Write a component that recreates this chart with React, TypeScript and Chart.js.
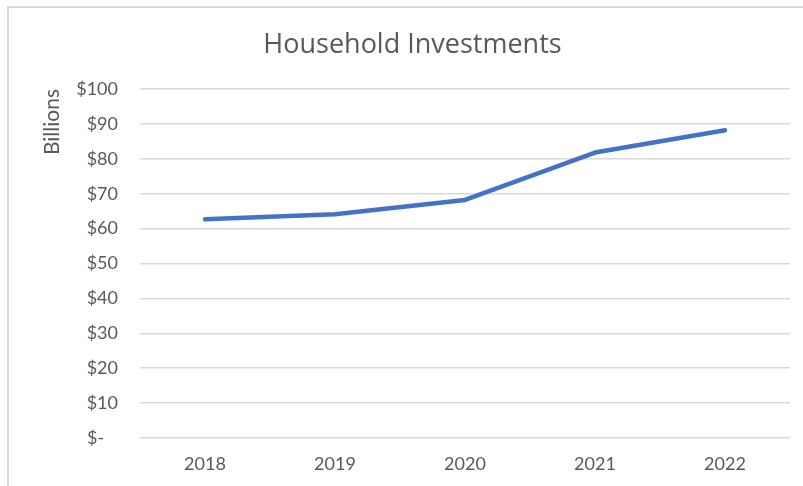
import React, { useEffect, useRef } from "react";
import { Chart, registerables } from "chart.js";

Chart.register(...registerables);

const years: string[] = ["2018", "2019", "2020", "2021", "2022"];
const investments: number[] = [62.7, 64.1, 68.2, 81.8, 88.2];
const chartTitle = "Household Investments";
const yAxisTitle = "Billions";

const FONT = "Lato, 'Open Sans', sans-serif";
const TITLE_FONT = "'Open Sans', Lato, sans-serif";
const TEXT = "#595959";

const frame = {
  id: "frame",
  beforeDraw(chart: any) {
    const ctx = chart.ctx;
    ctx.save();
    ctx.fillStyle = "#ffffff";
    ctx.fillRect(0, 0, chart.width, chart.height);
    ctx.strokeStyle = "#d9d9d9";
    ctx.lineWidth = 2;
    ctx.beginPath();
    ctx.moveTo(8, chart.height);
    ctx.lineTo(8, 7);
    ctx.lineTo(chart.width, 7);
    ctx.stroke();
    ctx.restore();
  },
};

export default function App() {
  const ref = useRef<HTMLCanvasElement>(null);
  useEffect(() => {
    const chart = new Chart(ref.current!, {
      type: "line",
      data: {
        labels: years,
        datasets: [
          {
            label: "Household Investments",
            data: investments,
            borderColor: "#4472C4",
            backgroundColor: "#4472C4",
            borderWidth: 4.5,
            pointRadius: 0,
            tension: 0,
            borderCapStyle: "round",
            borderJoinStyle: "round",
          },
        ],
      },
      options: {
        animation: false,
        responsive: false,
        devicePixelRatio: 1,
        layout: { padding: { left: 35, right: 13, top: 0, bottom: 0 } },
        plugins: {
          legend: { display: false },
          tooltip: { enabled: false },
          title: {
            display: true,
            text: chartTitle,
            color: TEXT,
            font: { family: TITLE_FONT, size: 27, weight: "normal", lineHeight: 1.2 },
            padding: { top: 29, bottom: 27.6 },
          },
        },
        scales: {
          x: {
            offset: true,
            grid: { display: false, drawTicks: false },
            border: { display: false },
            ticks: {
              color: TEXT,
              font: { family: FONT, size: 18 },
              padding: 15,
              maxRotation: 0,
            },
            afterFit(scale: any) {
              scale.height = 48;
            },
          },
          y: {
            min: 0,
            max: 100,
            grid: { color: "#d9d9d9", lineWidth: 1.5, drawTicks: false },
            border: { display: false },
            ticks: {
              stepSize: 10,
              color: TEXT,
              font: { family: FONT, size: 18 },
              padding: 22,
              callback: (v: any) => (Number(v) === 0 ? "$-   " : "$" + v),
            },
            title: {
              display: true,
              text: yAxisTitle,
              color: TEXT,
              align: "end",
              font: { family: FONT, size: 21, lineHeight: 1.2 },
              padding: { top: 4.4, bottom: 0 },
            },
            afterFit(scale: any) {
              scale.width = 105;
            },
          },
        },
      },
      plugins: [frame],
    });
    return () => chart.destroy();
  }, []);
  return (
    <div style={{ position: "absolute", left: 0, top: 0, width: 803, height: 486 }}>
      <canvas ref={ref} width={803} height={486} style={{ display: "block" }} />
    </div>
  );
}
